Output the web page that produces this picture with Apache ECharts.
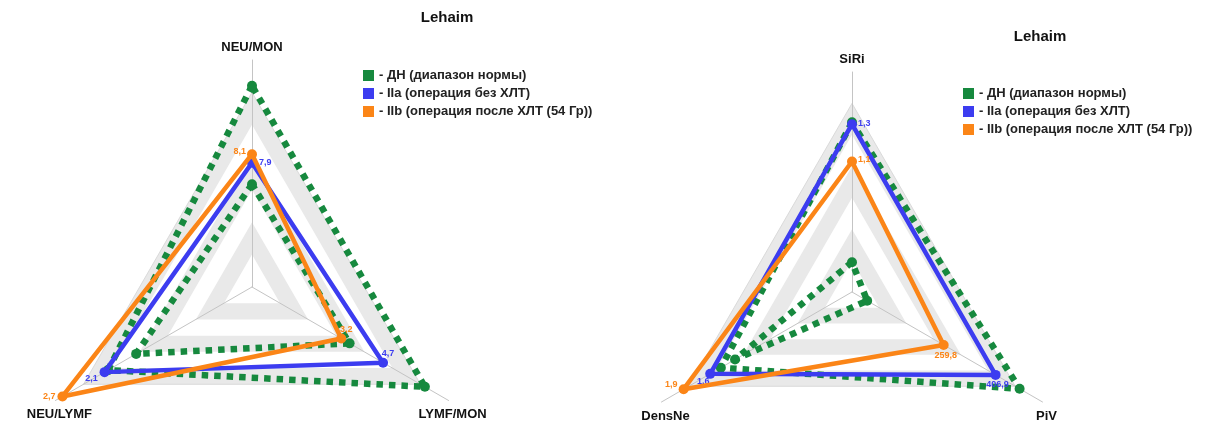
<!DOCTYPE html>
<html>
<head>
<meta charset="utf-8">
<script src="https://cdn.jsdelivr.net/npm/echarts@6/dist/echarts.min.js"></script>
<style>
  html, body { margin: 0; padding: 0; background: #fff; }
  #main { width: 1207px; height: 426px; }
</style>
</head>
<body>
<div id="main"></div>
<script>
// legend names (shared by both radars)
const legendNames = ['- ДН (диапазон нормы)', '- IIa (операция без ХЛТ)', '- IIb (операция после ХЛТ (54 Гр))'];

// left radar, axes in order: top, bottom-left, bottom-right
const leftAxes = ['NEU/MON', 'NEU/LYMF', 'LYMF/MON'];
const leftMin = [5, 0, 0];
const leftMax = [10.3, 2.8, 7.05];
const leftNormHigh = [9.7, 2.05, 6.2];
const leftNormLow = [7.4, 1.65, 3.5];
const leftIIa = [7.9, 2.1, 4.7];
const leftIIb = [8.1, 2.7, 3.2];

// right radar
const rightAxes = ['SiRi', 'DensNe', 'PiV'];
const rightMin = [0.4, 0, 0];
const rightMax = [1.58, 2.15, 540];
const rightNormHigh = [1.31, 1.48, 475];
const rightNormLow = [0.56, 1.32, 43];
const rightIIa = [1.3, 1.6, 406.9];
const rightIIb = [1.1, 1.9, 259.8];

const GREEN = '#16893e';
const BLUE = '#3c3cf0';
const ORANGE = '#fb8517';
const FONT = '"Liberation Sans", Arial, sans-serif';

// radar geometry
const leftCenter = [252, 287], leftR = 227;
const rightCenter = [852, 292], rightR = 220;

// where each value label sits next to its point: dx, dy, align
const labelSpots = {
  '8,1': [-6, -3, 'right'],
  '7,9': [7, 0, 'left'],
  '3,2': [5, -9, 'center'],
  '4,7': [5, -9, 'center'],
  '2,1': [-13, 6, 'center'],
  '2,7': [-7, 0, 'right'],
  '1,3': [6, -1, 'left'],
  '1,1': [6, -2, 'left'],
  '259,8': [2, 11, 'center'],
  '406,9': [2, 10, 'center'],
  '1,6': [-7, 8, 'center'],
  '1,9': [-6, -5, 'right']
};

function fmt(v) {
  return String(v).replace('.', ',');
}

function makeRadar(center, r, names, mins, maxs) {
  return {
    center: center,
    radius: r,
    startAngle: 90,
    shape: 'polygon',
    splitNumber: 7,
    indicator: names.map((n, i) => ({ name: n, min: mins[i], max: maxs[i] })),
    axisName: { show: false },
    axisLine: { lineStyle: { color: '#c4c4c4', width: 1 } },
    splitLine: {
      lineStyle: {
        color: ['rgba(0,0,0,0)', 'rgba(0,0,0,0)', 'rgba(0,0,0,0)', 'rgba(0,0,0,0)',
                'rgba(0,0,0,0)', 'rgba(0,0,0,0)', '#dadada'],
        width: 1
      }
    },
    splitArea: { areaStyle: { color: ['#ffffff', '#e9e9e9'] } }
  };
}

function labelLayout(p) {
  const s = labelSpots[p.text];
  if (!s) return {};
  return {
    x: p.rect.x + p.rect.width / 2 + s[0],
    y: p.rect.y + p.rect.height / 2 + s[1],
    align: s[2],
    verticalAlign: 'middle'
  };
}

function radarSeries(idx, normHigh, normLow, iia, iib) {
  return [
    {
      type: 'radar', radarIndex: idx, z: 2,
      symbol: 'circle', symbolSize: 10,
      itemStyle: { color: GREEN },
      lineStyle: { color: GREEN, width: 6.5, type: [6.5, 6], cap: 'butt' },
      label: { show: false },
      data: [
        { name: legendNames[0], value: normHigh },
        { name: legendNames[0], value: normLow }
      ]
    },
    {
      type: 'radar', radarIndex: idx, z: 3,
      symbol: 'circle', symbolSize: 10,
      itemStyle: { color: BLUE },
      lineStyle: { color: BLUE, width: 4.5 },
      label: { show: true, formatter: p => fmt(p.value), color: BLUE, fontSize: 9, fontWeight: 'bold', fontFamily: FONT },
      labelLayout: labelLayout,
      data: [{ name: legendNames[1], value: iia }]
    },
    {
      type: 'radar', radarIndex: idx, z: 4,
      symbol: 'circle', symbolSize: 10,
      itemStyle: { color: ORANGE },
      lineStyle: { color: ORANGE, width: 4.5 },
      label: { show: true, formatter: p => fmt(p.value), color: ORANGE, fontSize: 9, fontWeight: 'bold', fontFamily: FONT },
      labelLayout: labelLayout,
      data: [{ name: legendNames[2], value: iib }]
    }
  ];
}

// axis names drawn just beyond the triangle corners
function axisNameTexts(center, r, names) {
  const cx = center[0], cy = center[1];
  const spots = [
    [cx, cy - r - 13],
    [cx - r * 0.866 + 4, cy + r / 2 + 14],
    [cx + r * 0.866 + 4, cy + r / 2 + 14]
  ];
  return names.map((n, i) => ({
    type: 'text', x: spots[i][0], y: spots[i][1], silent: true,
    style: { text: n, align: 'center', verticalAlign: 'middle', font: 'bold 13px ' + FONT, fill: '#111' }
  }));
}

function titleText(x, y) {
  return {
    type: 'text', x: x, y: y, silent: true,
    style: { text: 'Lehaim', align: 'center', verticalAlign: 'middle', font: 'bold 15px ' + FONT, fill: '#111' }
  };
}

function legendAt(left, top) {
  return {
    data: legendNames,
    orient: 'vertical',
    left: left, top: top,
    icon: 'rect',
    itemWidth: 11, itemHeight: 11, itemGap: 3,
    selectedMode: false,
    textStyle: { fontSize: 13, fontWeight: 'bold', fontFamily: FONT, color: '#222', lineHeight: 15 }
  };
}

const chart = echarts.init(document.getElementById('main'));
chart.setOption({
  animation: false,
  backgroundColor: '#fff',
  legend: [legendAt(358, 63), legendAt(958, 81)],
  radar: [
    makeRadar(leftCenter, leftR, leftAxes, leftMin, leftMax),
    makeRadar(rightCenter, rightR, rightAxes, rightMin, rightMax)
  ],
  series: radarSeries(0, leftNormHigh, leftNormLow, leftIIa, leftIIb)
    .concat(radarSeries(1, rightNormHigh, rightNormLow, rightIIa, rightIIb)),
  graphic: [titleText(447, 18), titleText(1040, 37)]
    .concat(axisNameTexts(leftCenter, leftR, leftAxes))
    .concat(axisNameTexts(rightCenter, rightR, rightAxes))
});
</script>
</body>
</html>
